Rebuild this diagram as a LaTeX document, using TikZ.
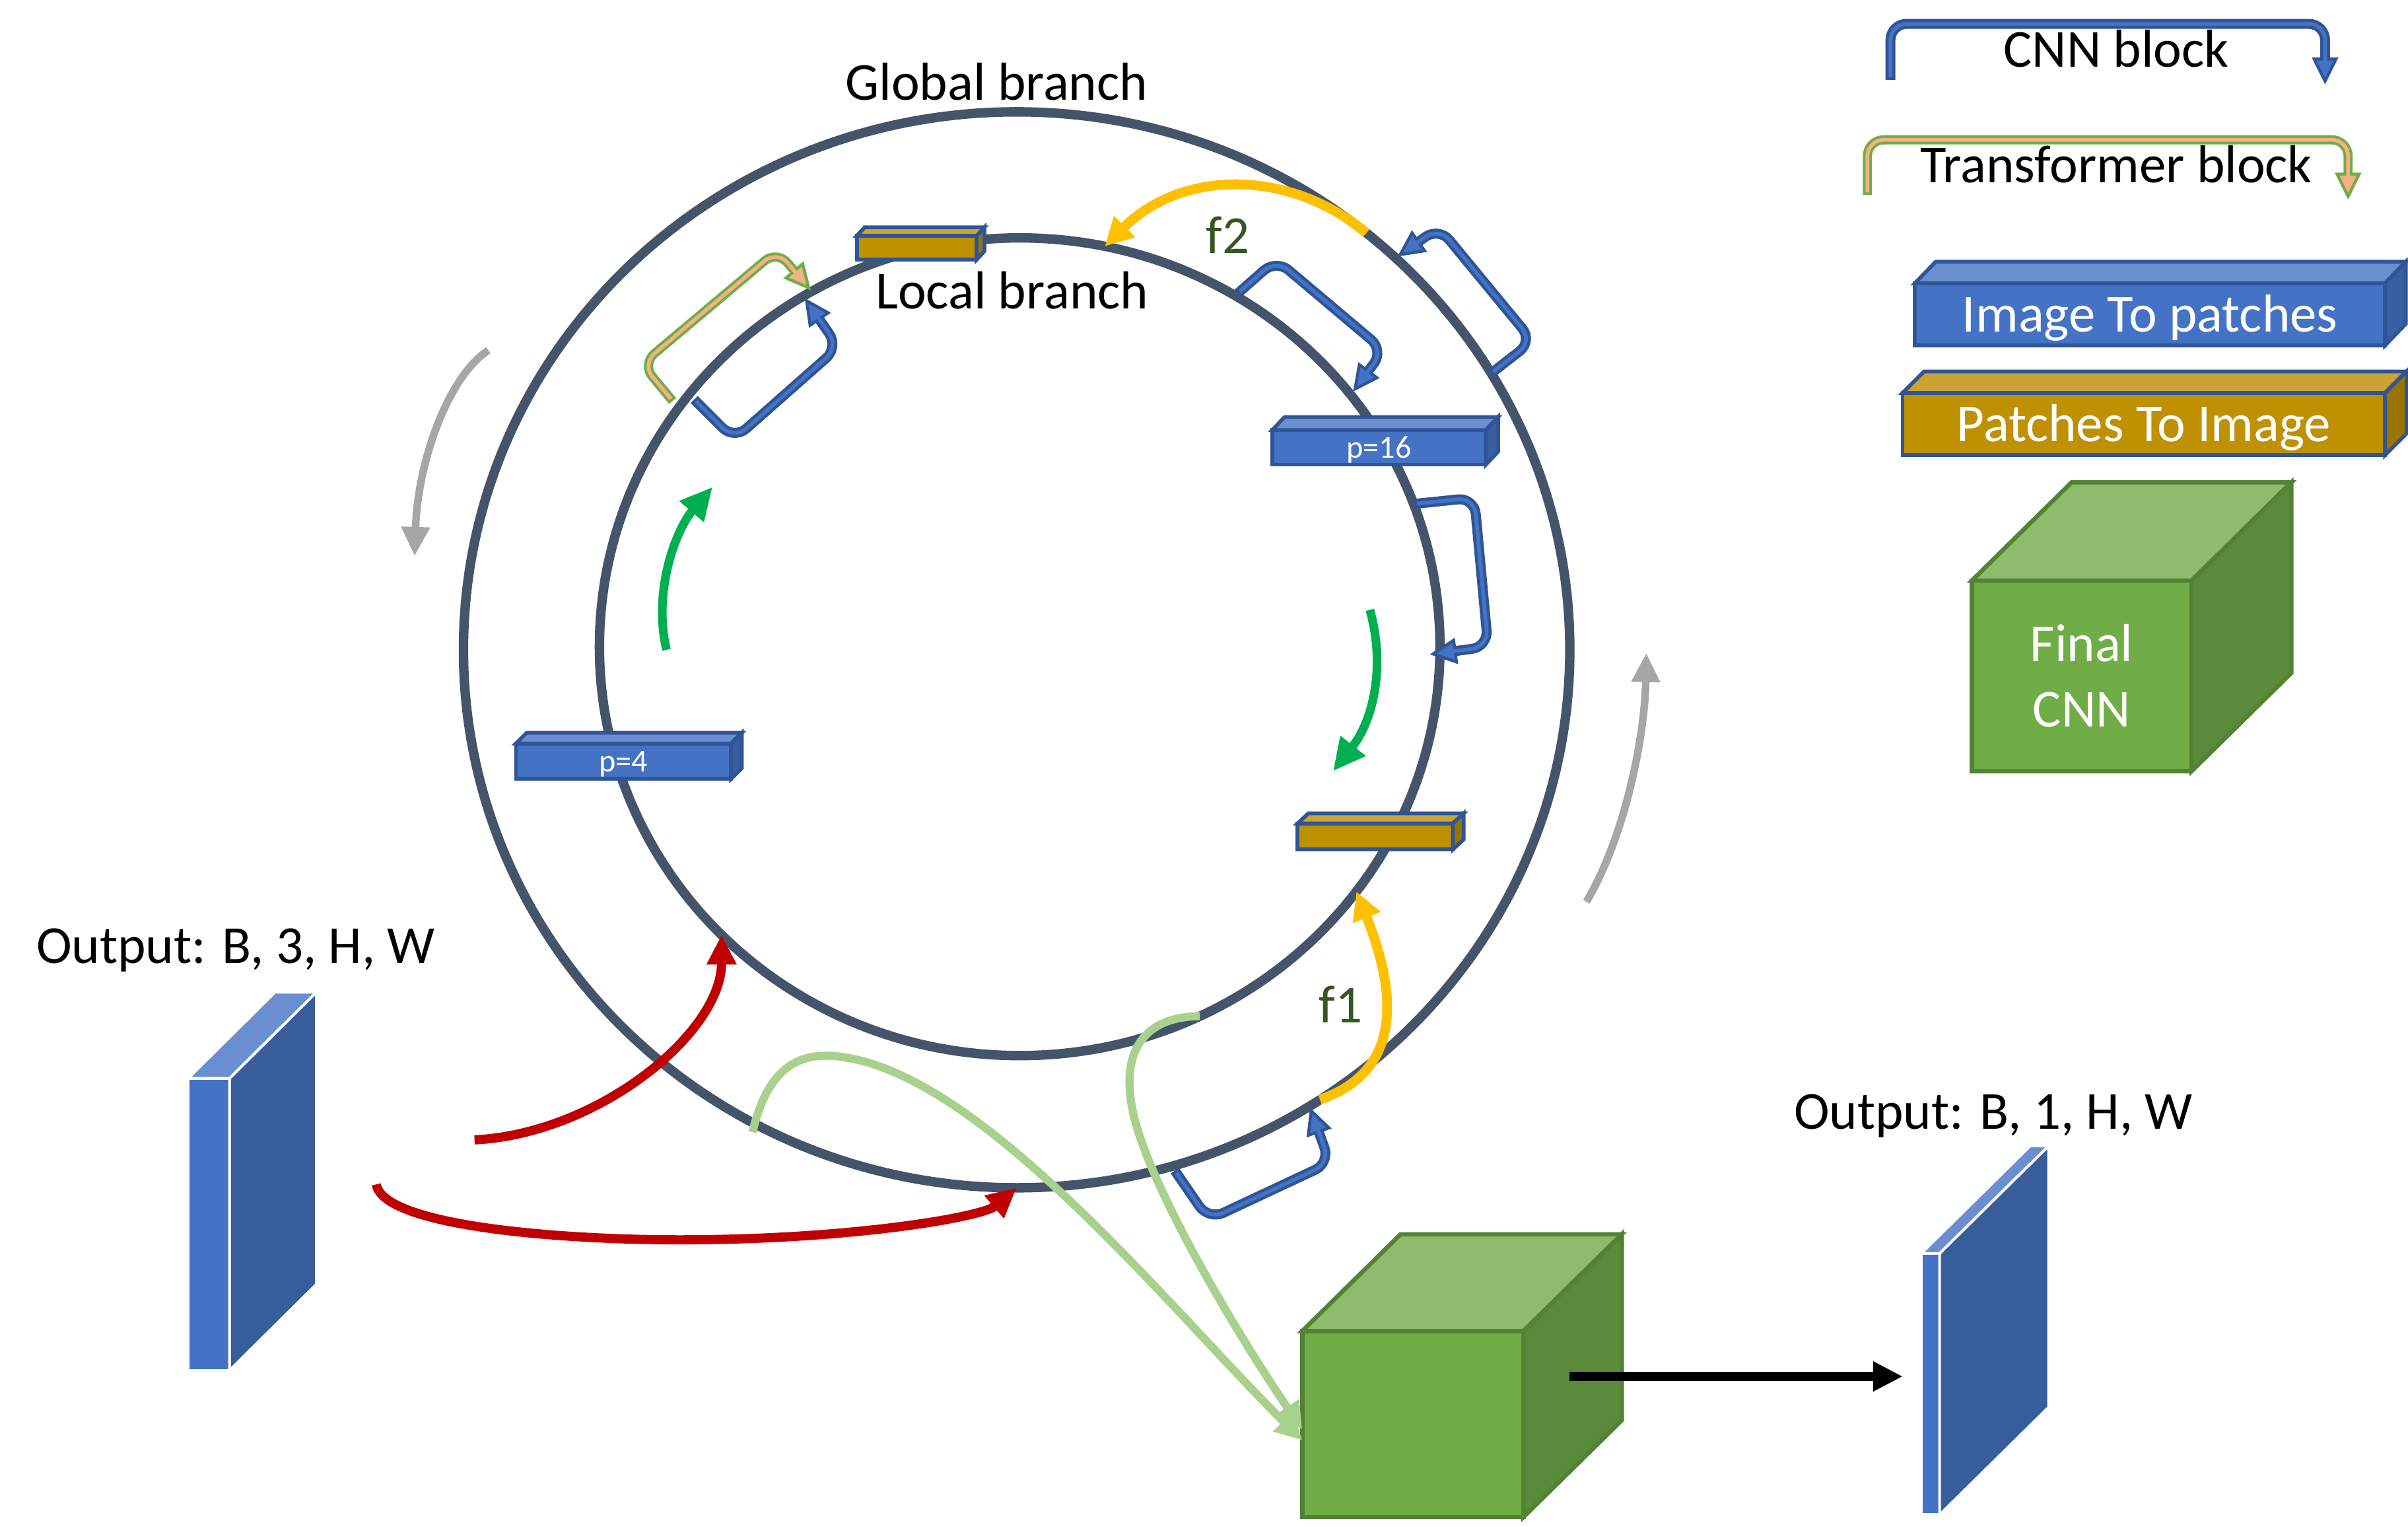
\documentclass[tikz,border=0pt]{standalone}
\usepackage{fontspec}
\setmainfont{Carlito}
\usetikzlibrary{arrows.meta,shapes.geometric}

\definecolor{ringcol}{HTML}{44546A}
\definecolor{cnnfill}{HTML}{4472C4}
\definecolor{cnnline}{HTML}{2F5597}
\definecolor{bluetop}{HTML}{6A8FD0}
\definecolor{blueside}{HTML}{3A5FA0}
\definecolor{slabside}{HTML}{385D9D}
\definecolor{goldfront}{HTML}{BF9000}
\definecolor{goldtop}{HTML}{CBA434}
\definecolor{goldside}{HTML}{9A7400}
\definecolor{cubefill}{HTML}{70AD47}
\definecolor{cubetop}{HTML}{8FBC6C}
\definecolor{cubeside}{HTML}{5A8B3A}
\definecolor{cubeline}{HTML}{548235}
\definecolor{trline}{HTML}{70AD47}
\definecolor{trfill}{HTML}{F4B183}
\definecolor{featcol}{HTML}{FFC000}
\definecolor{flabel}{HTML}{375623}
\definecolor{turncol}{HTML}{00B050}
\definecolor{spincol}{HTML}{A6A6A6}
\definecolor{inputcol}{HTML}{C00000}
\definecolor{mergecol}{HTML}{A9D18E}

\tikzset{
  lbl/.style={font=\fontsize{9.9pt}{12.1pt}\selectfont, inner sep=0pt},
  ring/.style={ellipse, draw=ringcol, line width=1.75pt, outer sep=0pt, inner sep=0pt},
  patchbox/.style={draw=cnnline, line width=0.7pt, outer sep=0pt, inner sep=0pt, text=white,
    font=\fontsize{9.9pt}{12.1pt}\selectfont, text height=6.5pt, text depth=0pt},
  smallbox/.style={patchbox, font=\fontsize{5.9pt}{7pt}\selectfont, text height=4pt},
  face/.style={draw=cnnline, line width=0.7pt},
  cubeface/.style={draw=cubeline, line width=0.8pt},
  slabface/.style={draw=white, line width=0.5pt},
  cnnout/.style={draw=cnnline, line width=1.85pt, rounded corners=3pt,
    -{Triangle[length=5pt,width=4.8pt,fill=cnnfill,line width=0.55pt]}},
  cnnin/.style={draw=cnnfill, line width=0.7pt, rounded corners=3pt, shorten >=3.7pt, shorten <=0.5pt},
  trout/.style={draw=trline, line width=1.7pt, rounded corners=3pt,
    -{Triangle[length=5pt,width=4.8pt,fill=trfill,line width=0.55pt]}},
  trin/.style={draw=trfill, line width=0.7pt, rounded corners=3pt, shorten >=3.7pt, shorten <=0.5pt},
  feat/.style={draw=featcol, line width=1.8pt, -{Triangle[length=5.2pt,width=5.2pt]}},
  turn/.style={draw=turncol, line width=1.6pt, -{Triangle[length=6pt,width=5.6pt]}},
  spin/.style={draw=spincol, line width=1.4pt, -{Triangle[length=5.4pt,width=5pt]}},
  input/.style={draw=inputcol, line width=1.7pt, -{Triangle[length=5.5pt,width=5.2pt]}},
  merge/.style={draw=mergecol, line width=1.5pt, -{Triangle[length=5pt,width=5pt]}},
  flow/.style={draw=black, line width=1.7pt, -{Triangle[length=5.5pt,width=5.2pt]}}
}

\begin{document}
\begin{tikzpicture}[x=0.01cm,y=-0.01cm]
\useasboundingbox (0,0) rectangle (1568,993.6);

\node[ring, minimum width=7.2cm, minimum height=7cm] (global) at (662,423) {};
\node[ring, minimum width=5.47cm, minimum height=5.32cm] (local) at (664,421) {};
\node[lbl, anchor=base] (gtitle) at (649,65) {Global branch};
\node[lbl, anchor=base] (ltitle) at (659,201) {Local branch};

\draw[trout] (438,261) -- (418,237) -- (506,163) -- (528,189);
\draw[trin] (438,261) -- (418,237) -- (506,163) -- (528,189);
\draw[cnnout] (452,260) -- (478,286) -- (546,226) -- (524,194);
\draw[cnnin] (452,260) -- (478,286) -- (546,226) -- (524,194);
\draw[cnnout] (806,191) -- (831,169) -- (901,228) -- (881,255);
\draw[cnnin] (806,191) -- (831,169) -- (901,228) -- (881,255);
\draw[cnnout] (971,243) -- (998,222) -- (937,148) -- (910,167);
\draw[cnnin] (971,243) -- (998,222) -- (937,148) -- (910,167);
\draw[cnnout] (921,328) -- (960,324) -- (969,421) -- (931,426);
\draw[cnnin] (921,328) -- (960,324) -- (969,421) -- (931,426);
\draw[cnnout] (765,762) -- (787,794) -- (866,757) -- (853,721);
\draw[cnnin] (765,762) -- (787,794) -- (866,757) -- (853,721);

\node[smallbox, fill=goldfront, minimum width=0.78cm, minimum height=0.155cm] (gtop) at (597,161.2) {};
\filldraw[face, fill=goldtop] (gtop.north west) -- ++(5,-5.5) -- ([shift={(5,-5.5)}]gtop.north east) -- (gtop.north east) -- cycle;
\filldraw[face, fill=goldside] (gtop.north east) -- ++(5,-5.5) -- ([shift={(5,-5.5)}]gtop.south east) -- (gtop.south east) -- cycle;

\node[smallbox, fill=cnnfill, minimum width=1.39cm, minimum height=0.225cm] (p16) at (898,291.2) {p=16};
\filldraw[face, fill=bluetop] (p16.north west) -- ++(8,-8.5) -- ([shift={(8,-8.5)}]p16.north east) -- (p16.north east) -- cycle;
\filldraw[face, fill=blueside] (p16.north east) -- ++(8,-8.5) -- ([shift={(8,-8.5)}]p16.south east) -- (p16.south east) -- cycle;

\node[smallbox, fill=cnnfill, minimum width=1.4cm, minimum height=0.23cm] (p4) at (406,495.5) {p=4};
\filldraw[face, fill=bluetop] (p4.north west) -- ++(7,-7) -- ([shift={(7,-7)}]p4.north east) -- (p4.north east) -- cycle;
\filldraw[face, fill=blueside] (p4.north east) -- ++(7,-7) -- ([shift={(7,-7)}]p4.south east) -- (p4.south east) -- cycle;

\node[smallbox, fill=goldfront, minimum width=1.01cm, minimum height=0.17cm] (gbot) at (895.5,544.5) {};
\filldraw[face, fill=goldtop] (gbot.north west) -- ++(7,-6.5) -- ([shift={(7,-6.5)}]gbot.north east) -- (gbot.north east) -- cycle;
\filldraw[face, fill=goldside] (gbot.north east) -- ++(7,-6.5) -- ([shift={(7,-6.5)}]gbot.south east) -- (gbot.south east) -- cycle;

\draw[feat] (global.50) .. controls (840,110) and (770,110) .. (local.78.5);
\node[lbl, text=flabel, anchor=base] (f2) at (799.5,165) {f2};
\draw[feat] (global.-56.5) .. controls (905,700) and (915,660) .. (local.-36);
\node[lbl, text=flabel, anchor=base] (f1) at (873,665.6) {f1};

\draw[turn] (434,423) .. controls (425,385) and (440,345) .. (464,317);
\draw[turn] (892,397) .. controls (902,432) and (895,468) .. (868,502);
\draw[spin] (318,228) .. controls (292,245) and (272,300) .. (270,362);
\draw[spin] (1033,587) .. controls (1058,545) and (1071,480) .. (1072,425);

\node[lbl, anchor=base] (intxt) at (153.5,627) {Output: B, 3, H, W};
\node[fill=cnnfill, draw=white, line width=0.5pt, outer sep=0pt, inner sep=0pt, minimum width=0.27cm, minimum height=1.9cm] (islab) at (136,797) {};
\filldraw[slabface, fill=bluetop] (islab.north west) -- ++(56.5,-56) -- ([shift={(56.5,-56)}]islab.north east) -- (islab.north east) -- cycle;
\filldraw[slabface, fill=slabside] (islab.north east) -- ++(56.5,-56) -- ([shift={(56.5,-56)}]islab.south east) -- (islab.south east) -- cycle;

\coordinate (in1) at (309,742);
\coordinate (in2) at (245,771);
\draw[input] (in1) .. controls (390,738) and (470,672) .. (local.224.6);
\draw[input] (in2) .. controls (250,800) and (380,808) .. (455,807) .. controls (560,806) and (640,792) .. (global.-90);

\node[fill=cubefill, cubeface, outer sep=0pt, minimum width=1.44cm, minimum height=1.21cm] (fcube) at (920,927) {};
\filldraw[cubeface, fill=cubetop] (fcube.north west) -- ++(64,-63) -- ([shift={(64,-63)}]fcube.north east) -- (fcube.north east) -- cycle;
\filldraw[cubeface, fill=cubeside] (fcube.north east) -- ++(64,-63) -- ([shift={(64,-63)}]fcube.south east) -- (fcube.south east) -- cycle;

\coordinate (g1) at (490,737);
\draw[merge] (g1) .. controls (500,695) and (520,684) .. (548,688) .. controls (640,700) and (760,850) .. ([yshift=-3pt]fcube.west);
\draw[merge] (local.-64) .. controls (740,662) and (730,690) .. (738,725) .. controls (748,770) and (800,860) .. ([yshift=-1pt]fcube.west);

\node[lbl, anchor=base] (outtxt) at (1298,735) {Output: B, 1, H, W};
\node[fill=cnnfill, draw=white, line width=0.5pt, outer sep=0pt, inner sep=0pt, minimum width=0.12cm, minimum height=1.7cm] (oslab) at (1257,901) {};
\filldraw[slabface, fill=bluetop] (oslab.north west) -- ++(71,-70) -- ([shift={(71,-70)}]oslab.north east) -- (oslab.north east) -- cycle;
\filldraw[slabface, fill=slabside] (oslab.north east) -- ++(71,-70) -- ([shift={(71,-70)}]oslab.south east) -- (oslab.south east) -- cycle;

\coordinate (cubemid) at (1022,896);
\draw[flow, shorten >=3.4pt] (cubemid) -- (cubemid -| oslab.west);

\draw[cnnout] (1231,52) -- (1231,15.5) -- (1514,15.5) -- (1514,55);
\draw[cnnin] (1231,52) -- (1231,15.5) -- (1514,15.5) -- (1514,55);
\node[lbl, anchor=base] (cnnkey) at (1378,43.8) {CNN block};
\draw[trout] (1216,127) -- (1216,91) -- (1529,91) -- (1529,130);
\draw[trin] (1216,127) -- (1216,91) -- (1529,91) -- (1529,130);
\node[lbl, anchor=base] (trkey) at (1378,118.9) {Transformer block};

\node[patchbox, fill=cnnfill, minimum width=3.06cm, minimum height=0.404cm] (itp) at (1400,204.6) {Image To patches};
\filldraw[face, fill=bluetop] (itp.north west) -- ++(13.5,-14) -- ([shift={(13.5,-14)}]itp.north east) -- (itp.north east) -- cycle;
\filldraw[face, fill=blueside] (itp.north east) -- ++(13.5,-14) -- ([shift={(13.5,-14)}]itp.south east) -- (itp.south east) -- cycle;

\node[patchbox, fill=goldfront, minimum width=3.14cm, minimum height=0.404cm] (pti) at (1396,276) {Patches To Image};
\filldraw[face, fill=goldtop] (pti.north west) -- ++(14,-14) -- ([shift={(14,-14)}]pti.north east) -- (pti.north east) -- cycle;
\filldraw[face, fill=goldside] (pti.north east) -- ++(14,-14) -- ([shift={(14,-14)}]pti.south east) -- (pti.south east) -- cycle;

\node[fill=cubefill, cubeface, outer sep=0pt, minimum width=1.43cm, minimum height=1.24cm, text=white, align=center,
  font=\fontsize{9.9pt}{12.1pt}\selectfont] (kcube) at (1355.5,440) {Final\\CNN};
\filldraw[cubeface, fill=cubetop] (kcube.north west) -- ++(65,-64) -- ([shift={(65,-64)}]kcube.north east) -- (kcube.north east) -- cycle;
\filldraw[cubeface, fill=cubeside] (kcube.north east) -- ++(65,-64) -- ([shift={(65,-64)}]kcube.south east) -- (kcube.south east) -- cycle;
\end{tikzpicture}
\end{document}
